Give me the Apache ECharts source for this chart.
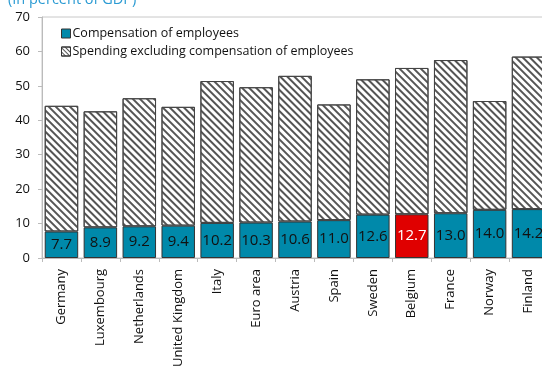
<!DOCTYPE html>
<html>
<head>
<meta charset="utf-8">
<script src="https://cdn.jsdelivr.net/npm/echarts@6/dist/echarts.min.js"></script>
<style>
  html, body { margin: 0; padding: 0; background: #fff; overflow: hidden; }
  #chart { width: 548px; height: 376px; }
</style>
</head>
<body>
<div id="chart"></div>
<script>
// Government spending by country (in percent of GDP)
const countries = ['Germany', 'Luxembourg', 'Netherlands', 'United Kingdom', 'Italy', 'Euro area',
  'Austria', 'Spain', 'Sweden', 'Belgium', 'France', 'Norway', 'Finland'];
const compensation = [7.7, 8.9, 9.2, 9.4, 10.2, 10.3, 10.6, 11.0, 12.6, 12.7, 13.0, 14.0, 14.2];
const otherSpending = [36.5, 33.7, 37.2, 34.5, 41.2, 39.3, 42.3, 33.6, 39.3, 42.5, 44.5, 31.6, 44.3];
const yTicks = [0, 10, 20, 30, 40, 50, 60, 70];
const highlight = 'Belgium';

const TEAL = '#0089aa';
const RED = '#e00000';
const FONT = '"Open Sans", "Noto Sans", sans-serif';

const compData = compensation.map((v, i) => {
  const hl = countries[i] === highlight;
  return {
    value: v,
    itemStyle: { color: hl ? RED : TEAL },
    label: { color: hl ? '#ffffff' : '#111111' }
  };
});

const hatch = {
  symbol: 'rect',
  symbolSize: 1,
  dashArrayX: [1, 0],
  dashArrayY: [1.6, 2.6],
  rotation: Math.PI / 4,
  color: '#555555'
};

const chart = echarts.init(document.getElementById('chart'), null, { renderer: 'canvas' });
chart.setOption({
  animation: false,
  title: {
    text: '(In percent of GDP)',
    left: 3,
    top: -13,
    textStyle: { color: '#2b9bd3', fontSize: 14.5, fontWeight: 'normal', fontFamily: FONT }
  },
  legend: {
    left: 56,
    top: 22,
    orient: 'vertical',
    itemWidth: 9,
    itemHeight: 9,
    itemGap: 5,
    textStyle: { fontSize: 12.5, color: '#111', fontFamily: FONT, padding: [0, 0, 0, -3] },
    data: [
      { name: 'Compensation of employees', icon: 'rect', itemStyle: { color: TEAL, borderColor: '#333', borderWidth: 1 } },
      { name: 'Spending excluding compensation of employees', icon: 'rect',
        itemStyle: { color: '#fff', borderColor: '#333', borderWidth: 1, decal: Object.assign({}, hatch, { dashArrayY: [1, 1.5] }) } }
    ]
  },
  grid: { left: 42, top: 17, right: 0, bottom: 118, show: true, borderColor: '#c8c8c8', borderWidth: 1, backgroundColor: 'transparent' },
  xAxis: {
    type: 'category',
    data: countries,
    axisLine: { lineStyle: { color: '#bbbbbb' } },
    axisTick: { show: true, length: 4, lineStyle: { color: '#bbbbbb' } },
    axisLabel: { rotate: 90, interval: 0, margin: 11, fontSize: 13, color: '#111', fontFamily: FONT }
  },
  yAxis: {
    type: 'value',
    min: yTicks[0],
    max: yTicks[yTicks.length - 1],
    interval: 10,
    splitLine: { show: false },
    axisLine: { show: true, lineStyle: { color: '#bbbbbb' } },
    axisTick: { show: true, length: 4, lineStyle: { color: '#bbbbbb' } },
    axisLabel: { fontSize: 13, color: '#111', margin: 12, fontFamily: FONT }
  },
  series: [
    {
      name: 'Compensation of employees',
      type: 'bar',
      stack: 'total',
      barCategoryGap: '14%',
      data: compData,
      itemStyle: { color: TEAL, borderColor: '#333', borderWidth: 1 },
      label: { show: true, position: 'inside', fontSize: 15, fontFamily: FONT, formatter: p => p.value.toFixed(1) }
    },
    {
      name: 'Spending excluding compensation of employees',
      type: 'bar',
      stack: 'total',
      data: otherSpending,
      itemStyle: { color: '#ffffff', borderColor: '#444', borderWidth: 1, decal: hatch }
    }
  ]
});
</script>
</body>
</html>
